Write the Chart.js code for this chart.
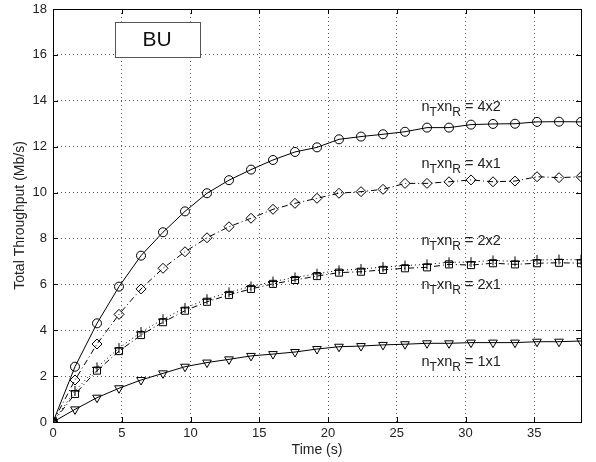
<!DOCTYPE html>
<html>
<head>
<meta charset="utf-8">
<script src="https://cdn.jsdelivr.net/npm/chart.js@4/dist/chart.umd.min.js"></script>
<style>
  html, body { margin: 0; padding: 0; background: #fff; }
  #wrap { width: 596px; height: 462px; }
</style>
</head>
<body>
<div id="wrap"><canvas id="myChart" width="596" height="462"></canvas></div>
<script>
// tempi di campionamento (s)
const times = [0, 1.6, 3.2, 4.8, 6.4, 8.0, 9.6, 11.2, 12.8, 14.4, 16.0, 17.6, 19.2,
  20.8, 22.4, 24.0, 25.6, 27.2, 28.8, 30.4, 32.0, 33.6, 35.2, 36.8, 38.4];

// throughput totale (Mb/s) per configurazione
const thr4x2 = [0, 2.41, 4.30, 5.90, 7.25, 8.27, 9.18, 9.97, 10.54, 11.00, 11.42, 11.77, 11.97,
  12.32, 12.44, 12.54, 12.65, 12.83, 12.83, 12.96, 12.99, 13.00, 13.08, 13.09, 13.08];
const thr4x1 = [0, 1.83, 3.40, 4.69, 5.80, 6.70, 7.42, 8.03, 8.51, 8.88, 9.27, 9.53, 9.75,
  9.97, 10.04, 10.14, 10.40, 10.40, 10.47, 10.55, 10.47, 10.50, 10.69, 10.65, 10.69];
const thr2x2 = [0, 1.35, 2.38, 3.22, 3.92, 4.48, 4.97, 5.35, 5.65, 5.91, 6.12, 6.30, 6.46,
  6.61, 6.67, 6.75, 6.82, 6.87, 6.96, 6.97, 7.04, 7.00, 7.06, 7.08, 7.07];
const thr2x1 = [0, 1.22, 2.24, 3.09, 3.79, 4.35, 4.85, 5.24, 5.54, 5.80, 6.02, 6.19, 6.36,
  6.51, 6.55, 6.63, 6.70, 6.74, 6.87, 6.84, 6.92, 6.87, 6.92, 6.94, 6.92];
const thr1x1 = [0, 0.55, 1.06, 1.47, 1.83, 2.12, 2.41, 2.59, 2.73, 2.88, 2.96, 3.05, 3.18,
  3.28, 3.31, 3.36, 3.39, 3.43, 3.43, 3.46, 3.46, 3.46, 3.50, 3.50, 3.53];

// etichette delle curve
const curveLabels = ['4x2', '4x1', '2x2', '2x1', '1x1'];
const xTicks = [0, 5, 10, 15, 20, 25, 30, 35];
const yTicks = [0, 2, 4, 6, 8, 10, 12, 14, 16, 18];

const FONT = '"Liberation Sans", Arial, Helvetica, sans-serif';

function pts(ys) {
  return times.map((t, i) => ({ x: t, y: ys[i] }));
}

function serie(label, ys, style, radius, dash, rotation) {
  return {
    label: label,
    data: pts(ys),
    borderColor: '#000',
    borderWidth: 1,
    borderDash: dash,
    backgroundColor: 'rgba(0,0,0,0)',
    pointStyle: style,
    pointRadius: radius,
    pointRotation: rotation || 0,
    pointBorderColor: '#000',
    pointBackgroundColor: 'rgba(0,0,0,0)',
    pointBorderWidth: 1,
    tension: 0
  };
}

// annotazioni: riquadro "BU", etichette delle curve, bordo e tacche interne
const annotations = {
  id: 'annotations',
  afterDraw(chart) {
    const { ctx, chartArea: a, scales: { x, y } } = chart;
    ctx.save();

    // bordo del grafico
    ctx.strokeStyle = '#000';
    ctx.lineWidth = 1;
    ctx.setLineDash([]);
    ctx.strokeRect(Math.round(a.left) + 0.5, Math.round(a.top) + 0.5,
      Math.round(a.right - a.left), Math.round(a.bottom - a.top));

    // tacche interne su tutti i lati
    ctx.beginPath();
    xTicks.forEach(v => {
      const px = Math.round(x.getPixelForValue(v)) + 0.5;
      ctx.moveTo(px, a.bottom); ctx.lineTo(px, a.bottom - 5);
      ctx.moveTo(px, a.top); ctx.lineTo(px, a.top + 5);
    });
    yTicks.forEach(v => {
      const py = Math.round(y.getPixelForValue(v)) + 0.5;
      ctx.moveTo(a.left, py); ctx.lineTo(a.left + 5, py);
      ctx.moveTo(a.right, py); ctx.lineTo(a.right - 5, py);
    });
    ctx.stroke();

    // riquadro BU
    const bx0 = x.getPixelForValue(4.5), bx1 = x.getPixelForValue(10.65);
    const by0 = y.getPixelForValue(17.45), by1 = y.getPixelForValue(15.93);
    ctx.fillStyle = '#fff';
    ctx.fillRect(bx0, by0, bx1 - bx0, by1 - by0);
    ctx.strokeStyle = '#555';
    ctx.strokeRect(Math.round(bx0) + 0.5, Math.round(by0) + 0.5,
      Math.round(bx1 - bx0), Math.round(by1 - by0));
    ctx.fillStyle = '#111';
    ctx.font = '21px ' + FONT;
    ctx.textAlign = 'center';
    ctx.textBaseline = 'middle';
    ctx.fillText('BU', (bx0 + bx1) / 2, (by0 + by1) / 2 + 1);

    // etichette n_T x n_R
    const labelY = [13.74, 11.25, 7.9, 5.97, 2.63];
    ctx.textAlign = 'left';
    ctx.textBaseline = 'middle';
    ctx.fillStyle = '#222';
    curveLabels.forEach((lab, i) => {
      let px = x.getPixelForValue(26.8);
      const py = y.getPixelForValue(labelY[i]);
      const parts = [['n', 0], ['T', 1], ['xn', 0], ['R', 1], [' = ' + lab, 0]];
      parts.forEach(([s, sub]) => {
        ctx.font = (sub ? '12px ' : '14.5px ') + FONT;
        ctx.fillText(s, px, py + (sub ? 6 : 0));
        px += ctx.measureText(s).width;
      });
    });
    ctx.restore();
  }
};

const dotGrid = { color: 'rgba(0,0,0,0.65)', lineWidth: 1, drawTicks: false };

const ctx = document.getElementById('myChart').getContext('2d');
new Chart(ctx, {
  type: 'line',
  data: {
    datasets: [
      serie('4x2', thr4x2, 'circle', 4.5, []),
      serie('4x1', thr4x1, 'rectRot', 5, [6, 3, 1, 3]),
      serie('2x2', thr2x2, 'cross', 5, [1, 3]),
      serie('2x1', thr2x1, 'rect', 5, [6, 3, 1, 3]),
      serie('1x1', thr1x1, 'triangle', 5, [], 180)
    ]
  },
  options: {
    responsive: false,
    animation: false,
    layout: { padding: { top: 9, right: 15, left: 0, bottom: 0 } },
    scales: {
      x: {
        type: 'linear',
        min: 0,
        max: 38.4,
        afterFit: s => { s.height = 40; s.paddingLeft = 0; s.paddingRight = 0; },
        afterBuildTicks: s => { s.ticks = xTicks.map(v => ({ value: v })); },
        border: { display: false, dash: [1, 3] },
        grid: dotGrid,
        ticks: { color: '#222', font: { family: FONT, size: 13 }, padding: 4, maxRotation: 0 },
        title: { display: true, text: 'Time (s)', color: '#222', font: { family: FONT, size: 14 }, padding: { top: 0, bottom: 3 } }
      },
      y: {
        min: 0,
        max: 18,
        afterFit: s => { s.width = 53; s.paddingTop = 0; s.paddingBottom = 0; },
        afterBuildTicks: s => { s.ticks = yTicks.map(v => ({ value: v })); },
        border: { display: false, dash: [1, 3] },
        grid: dotGrid,
        ticks: { color: '#222', font: { family: FONT, size: 13 }, padding: 6 },
        title: { display: true, text: 'Total Throughput (Mb/s)', color: '#222', font: { family: FONT, size: 14 }, padding: { top: 12, bottom: 0 } }
      }
    },
    plugins: {
      legend: { display: false },
      tooltip: { enabled: false }
    }
  },
  plugins: [annotations]
});
</script>
</body>
</html>
